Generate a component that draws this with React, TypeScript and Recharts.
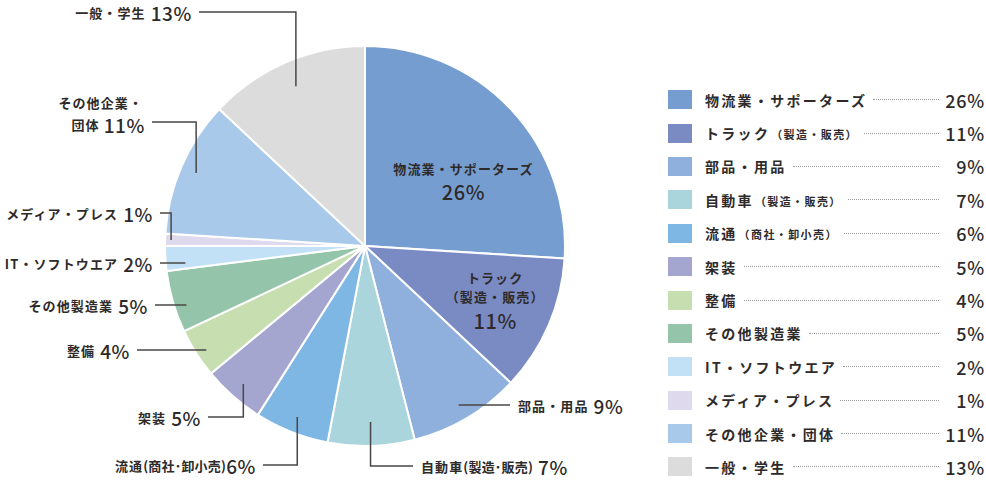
import React from 'react';
import { PieChart, Pie, Cell, Legend } from 'recharts';

// 業種別構成比 (%)
const names = [
  '物流業・サポーターズ',
  'トラック',
  '部品・用品',
  '自動車',
  '流通',
  '架装',
  '整備',
  'その他製造業',
  'IT・ソフトウエア',
  'メディア・プレス',
  'その他企業・団体',
  '一般・学生',
];
const notes = ['', '製造・販売', '', '製造・販売', '商社・卸小売', '', '', '', '', '', '', ''];
const shares = [26, 11, 9, 7, 6, 5, 4, 5, 2, 1, 11, 13];
const colors = [
  '#769dd0', '#7a8bc3', '#8fb0dc', '#aad5dc', '#7fb7e4', '#a4a6d0',
  '#c6deb0', '#94c5aa', '#c3e1f6', '#ded9ec', '#a8c9e9', '#dcdcdc',
];

const data = names.map((name, i) => ({ name, note: notes[i], value: shares[i] }));

const FONT = "'Noto Sans CJK JP', 'Noto Sans', sans-serif";
const INK = '#2e2a2a';
const RAD = Math.PI / 180;

// label placement: 'in' = inside slice, 'h' = straight leader, 'v' = elbow leader
const labelLayout: any[] = [
  { kind: 'in', r: 0.6, dx: 11, dys: [5, 28] },
  { kind: 'in', r: 0.6, dx: 20, dys: [-16, 3, 27] },
  { kind: 'h', r: 0.92, y: 405, x: 510, side: 'r' },
  { kind: 'v', r: 0.88, y: 466, x: 413, side: 'r' },
  { kind: 'v', r: 0.92, y: 465, x: 263, side: 'l' },
  { kind: 'v', r: 0.92, y: 417, x: 208, side: 'l' },
  { kind: 'h', r: 0.94, y: 350, x: 137, side: 'l' },
  { kind: 'h', r: 0.93, y: 305, x: 155, side: 'l' },
  { kind: 'h', r: 0.9, y: 263, x: 160, side: 'l' },
  { kind: 'v', r: 0.97, y: 213, x: 160, side: 'l' },
  { kind: 'v', r: 0.92, y: 122, x: 152, side: 'l' },
  { kind: 'v', r: 0.87, y: 12, x: 199, side: 'l' },
];

const nameStyle = { fontSize: 13, fontWeight: 700, letterSpacing: 1.1 };
const pctStyle = { fontSize: 19, fontWeight: 500, letterSpacing: 0.6 };

const renderLabel = (props: any) => {
  const { cx, cy, midAngle, outerRadius, index, value } = props;
  const item = data[index];
  const lay = labelLayout[index];
  const ax = cx + outerRadius * lay.r * Math.cos(-midAngle * RAD);
  const ay = cy + outerRadius * lay.r * Math.sin(-midAngle * RAD);
  const pct = `${value}%`;

  if (lay.kind === 'in') {
    const x = ax + lay.dx;
    return (
      <g fontFamily={FONT} fill={INK}>
        <text x={x} y={ay + lay.dys[0]} textAnchor="middle" dominantBaseline="central" style={nameStyle}>
          {item.name}
        </text>
        {item.note ? (
          <text x={x} y={ay + lay.dys[1]} textAnchor="middle" dominantBaseline="central" style={nameStyle}>
            （{item.note}）
          </text>
        ) : null}
        <text x={x} y={ay + lay.dys[lay.dys.length - 1]} textAnchor="middle" dominantBaseline="central" style={{ ...pctStyle, fontSize: 20 }}>
          {pct}
        </text>
      </g>
    );
  }

  const path =
    lay.kind === 'v'
      ? `M${ax},${ay} V${lay.y} H${lay.x}`
      : `M${ax},${lay.y} H${lay.x}`;
  const left = lay.side === 'l';
  const tx = left ? lay.x - 7 : lay.x + 8;
  const anchor = left ? 'end' : 'start';
  const wrap = item.name === 'その他企業・団体';

  return (
    <g fontFamily={FONT} fill={INK}>
      <path d={path} stroke="#4a4646" strokeWidth={1.5} fill="none" />
      {wrap ? (
        <>
          <text x={tx - 2} y={lay.y - 20} textAnchor={anchor} dominantBaseline="central" style={nameStyle}>
            その他企業・
          </text>
          <text x={tx} y={lay.y + 2} textAnchor={anchor} dominantBaseline="central">
            <tspan style={nameStyle}>団体 </tspan>
            <tspan style={pctStyle}>{pct}</tspan>
          </text>
        </>
      ) : (
        <text x={tx} y={lay.y} textAnchor={anchor} dominantBaseline="central">
          <tspan style={nameStyle}>{item.name}</tspan>
          {item.note ? (
            <tspan style={{ ...nameStyle, letterSpacing: 0.2 }}>({item.note.replace('・', '･')})</tspan>
          ) : null}
          <tspan style={pctStyle} dx={item.note && left ? 0 : 5}>{pct}</tspan>
        </text>
      )}
    </g>
  );
};

const LegendBox = () => (
  <div style={{ fontFamily: FONT, color: INK, width: 317 }}>
    {data.map((d, i) => (
      <div key={d.name} style={{ display: 'flex', alignItems: 'center', height: 33.4 }}>
        <span style={{ width: 24, height: 19, background: colors[i], flex: 'none' }} />
        <span style={{ marginLeft: 13, fontSize: 14, fontWeight: 700, letterSpacing: 2.3, whiteSpace: 'nowrap' }}>
          {d.name}
          {d.note ? (
            <span style={{ fontSize: 11, letterSpacing: 1.4, marginLeft: 1 }}>（{d.note}）</span>
          ) : null}
        </span>
        <span style={{ flex: 1, borderBottom: '1px dotted #9a9a9a', margin: '0 0 0 6px', height: 0 }} />
        <span style={{ width: 46, textAlign: 'right', fontSize: 18, fontWeight: 500, letterSpacing: 0.8 }}>
          {d.value}%
        </span>
      </div>
    ))}
  </div>
);

export default function App() {
  return (
    <div style={{ position: 'absolute', left: 0, top: 0, width: 986, height: 480, background: '#fff' }}>
      <PieChart width={986} height={480} margin={{ top: 0, right: 0, bottom: 0, left: 0 }}>
        <Pie
          data={data}
          dataKey="value"
          nameKey="name"
          cx={365}
          cy={246}
          outerRadius={200}
          startAngle={90}
          endAngle={-270}
          stroke="#ffffff"
          strokeWidth={2}
          label={renderLabel}
          labelLine={false}
          isAnimationActive={false}
        >
          {data.map((d, i) => (
            <Cell key={d.name} fill={colors[i]} />
          ))}
        </Pie>
        <Legend
          layout="vertical"
          align="right"
          verticalAlign="top"
          content={() => <LegendBox />}
          wrapperStyle={{ left: 668, top: 83, width: 317 }}
        />
      </PieChart>
    </div>
  );
}
